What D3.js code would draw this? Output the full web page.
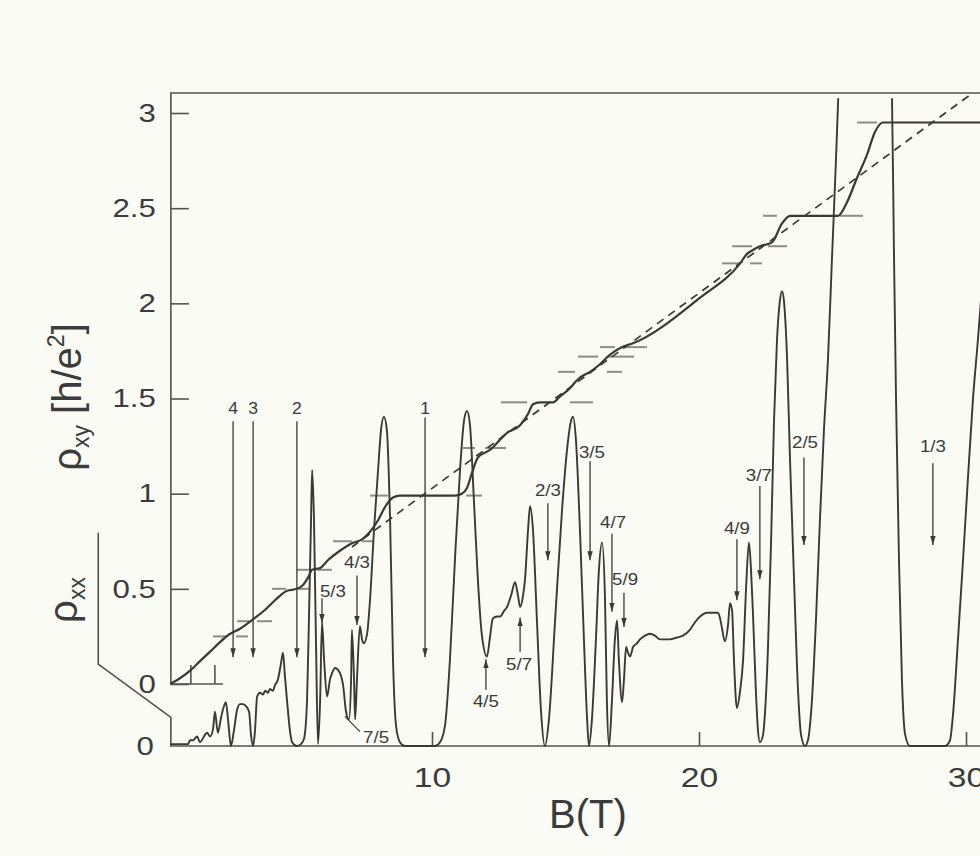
<!DOCTYPE html>
<html>
<head>
<meta charset="utf-8">
<script src="https://cdn.jsdelivr.net/npm/d3@7"></script>
<style>
  body { margin: 0; background: #fbfbf5; }
  svg { display: block; font-family: "Liberation Sans", Arial, Helvetica, sans-serif; }
</style>
</head>
<body>
<div id="container"></div>
<script>
/* DATA */
// rho_xx trace: [B (T), rho_xx in h/e^2 units, offset to its own zero]
const rhoXX = [
  [0.19,0.01],[0.56,0.01],[0.86,0.01],[0.94,0.03],[1.05,0.03],[1.20,0.05],[1.31,0.02],[1.46,0.05],
  [1.57,0.07],[1.69,0.05],[1.80,0.09],[1.87,0.18],[1.98,0.07],[2.10,0.15],[2.21,0.21],[2.28,0.23],
  [2.36,0.14],[2.47,0],[2.58,0.08],[2.70,0.19],[2.81,0.22],[2.92,0.22],[3.03,0.21],[3.15,0.18],
  [3.22,0.06],[3.30,0],[3.37,0.08],[3.45,0.26],[3.56,0.28],[3.67,0.27],[3.75,0.29],[3.86,0.28],
  [3.93,0.30],[4.04,0.29],[4.12,0.32],[4.23,0.35],[4.34,0.43],[4.42,0.49],[4.49,0.37],[4.57,0.24],
  [4.68,0.08],[4.76,0.02],[4.94,0],[5.09,0.01],[5.21,0.04],[5.32,0.24],[5.39,0.66],[5.47,1.19],
  [5.51,1.45],[5.58,1.19],[5.66,0.50],[5.73,0.01],[5.81,0.24],[5.88,0.65],[5.96,0.45],[6.07,0.26],
  [6.18,0.35],[6.25,0.38],[6.37,0.41],[6.48,0.40],[6.59,0.37],[6.67,0.32],[6.78,0.18],[6.89,0.14],
  [6.97,0.35],[7.00,0.61],[7.08,0.35],[7.12,0.14],[7.19,0.35],[7.30,0.63],[7.38,0.56],[7.45,0.54],
  [7.57,0.59],[7.68,0.77],[7.83,1.14],[7.98,1.45],[8.09,1.66],[8.20,1.73],[8.31,1.66],[8.43,1.19],
  [8.54,0.45],[8.65,0.11],[8.80,0.02],[8.99,0],[9.55,0],[10.11,0],[10.30,0.02],[10.49,0.11],
  [10.67,0.45],[10.86,0.98],[11.05,1.45],[11.20,1.71],[11.31,1.76],[11.42,1.69],[11.57,1.29],
  [11.72,0.87],[11.87,0.58],[12.06,0.47],[12.17,0.57],[12.28,0.67],[12.43,0.68],[12.55,0.68],
  [12.70,0.71],[12.81,0.73],[12.96,0.79],[13.11,0.86],[13.22,0.79],[13.30,0.73],[13.41,0.79],
  [13.48,0.87],[13.60,1.14],[13.67,1.26],[13.78,1.14],[13.93,0.66],[14.08,0.19],[14.23,0],
  [14.38,0.14],[14.61,0.66],[14.87,1.24],[15.06,1.56],[15.21,1.71],[15.28,1.73],[15.39,1.61],
  [15.54,1.14],[15.69,0.56],[15.81,0.14],[15.88,0],[15.99,0.14],[16.14,0.56],[16.25,0.92],
  [16.37,1.07],[16.48,0.77],[16.55,0.24],[16.63,0],[16.74,0.24],[16.85,0.56],[16.93,0.66],
  [17.00,0.45],[17.12,0.23],[17.19,0.35],[17.27,0.52],[17.34,0.49],[17.42,0.47],[17.53,0.52],
  [17.68,0.54],[17.79,0.56],[17.98,0.58],[18.16,0.59],[18.35,0.58],[18.54,0.56],[18.91,0.56],
  [19.18,0.57],[19.40,0.58],[19.66,0.61],[19.85,0.65],[20.04,0.68],[20.30,0.70],[20.49,0.70],
  [20.71,0.70],[20.79,0.67],[20.86,0.62],[20.97,0.55],[21.09,0.64],[21.16,0.75],[21.24,0.71],
  [21.31,0.45],[21.42,0.20],[21.54,0.29],[21.65,0.45],[21.76,0.82],[21.87,1.07],[21.95,0.92],
  [22.02,0.70],[22.13,0.29],[22.21,0.08],[22.28,0.02],[22.40,0.06],[22.47,0.17],[22.58,0.50],
  [22.70,1.08],[22.81,1.71],[22.92,2.13],[23.03,2.34],[23.11,2.39],[23.18,2.34],[23.30,2.03],
  [23.41,1.50],[23.56,0.87],[23.71,0.29],[23.82,0.06],[23.97,0],[24.08,0.03],[24.23,0.24],
  [24.38,0.66],[24.53,1.19],[24.68,1.66],[24.83,2.03],[24.98,2.56],[25.13,3.08],[25.24,3.50],
  [25.6,4.3],[26.2,4.6],[26.8,4.3],[27.15,3.60],[27.23,3.39],[27.30,2.61],[27.38,1.82],
  [27.49,0.98],[27.60,0.35],[27.72,0.06],[27.90,0],[28.28,0],[28.84,0],[29.21,0],[29.40,0.03],
  [29.51,0.16],[29.70,0.56],[29.89,0.98],[30.07,1.40],[30.26,1.82],[30.45,2.14],[30.56,2.34]
];

// rho_xy trace: [B (T), rho_xy (h/e^2)]
const rhoXY = [
  [0.19,0],[0.56,0.03],[0.94,0.07],[1.31,0.12],[1.69,0.17],[2.06,0.22],[2.40,0.26],[2.81,0.29],
  [3.30,0.34],[3.75,0.39],[4.12,0.44],[4.57,0.49],[4.94,0.50],[5.17,0.52],[5.36,0.56],[5.51,0.60],
  [5.81,0.61],[6.10,0.65],[6.55,0.70],[7.00,0.74],[7.38,0.76],[7.68,0.80],[7.98,0.86],[8.24,0.93],
  [8.54,0.98],[8.80,0.99],[10.86,0.99],[11.12,1.00],[11.31,1.03],[11.50,1.11],[11.72,1.19],
  [12.17,1.23],[12.81,1.32],[13.30,1.36],[13.60,1.42],[13.78,1.47],[14.04,1.48],[14.53,1.48],
  [14.79,1.51],[15.06,1.54],[15.54,1.61],[15.92,1.64],[16.29,1.68],[16.67,1.73],[17.12,1.77],
  [17.53,1.79],[20.04,2.03],[21.54,2.21],[21.80,2.26],[22.02,2.28],[22.28,2.30],[22.73,2.32],
  [23.11,2.42],[23.41,2.46],[25.21,2.46],[25.54,2.53],[25.92,2.66],[26.29,2.78],[26.59,2.90],
  [26.89,2.95],[30.6,2.95]
];

// classical Hall line (dashed), end points
const classical = [[7.0, 0.72], [30.2, 3.10]];

// grey quantized-value marks: [rho_xy, B start, B end]
const plateauMarks = [
  [0.25,1.80,2.36],[0.25,2.66,3.11],
  [0.33,2.70,3.15],[0.33,3.45,4.01],
  [0.50,4.01,4.53],[0.50,4.98,5.43],
  [0.60,4.94,5.39],[0.60,5.69,6.25],
  [0.75,6.29,7.00],[0.75,7.38,7.79],
  [0.99,7.68,8.35],[0.99,11.27,11.87],
  [1.24,11.16,11.61],[1.24,11.99,12.77],
  [1.48,12.58,13.56],[1.48,15.17,16.03],
  [1.64,14.72,15.36],[1.64,16.55,17.12],
  [1.72,15.47,16.22],[1.72,16.59,17.57],
  [1.77,16.29,16.85],[1.77,17.23,18.05],
  [2.21,20.86,21.54],[2.21,21.91,22.36],
  [2.30,21.24,21.99],[2.30,22.58,23.30],
  [2.46,22.40,22.92],[2.46,25.28,26.14],
  [2.95,25.92,26.67]
];

// filling-factor arrows: label, B, line start, tip, label position (rho_xy units)
const arrows = [
  { t: "4",   b: 2.55,  y1: 1.38, y2: 0.14, lb: 2.55,  ly: 1.45 },
  { t: "3",   b: 3.30,  y1: 1.38, y2: 0.14, lb: 3.30,  ly: 1.45 },
  { t: "2",   b: 4.94,  y1: 1.38, y2: 0.14, lb: 4.94,  ly: 1.45 },
  { t: "1",   b: 9.74,  y1: 1.40, y2: 0.14, lb: 9.74,  ly: 1.45 },
  { t: "5/3", b: 5.88,  y1: 0.45, y2: 0.32, lb: 6.29,  ly: 0.49 },
  { t: "4/3", b: 7.19,  y1: 0.57, y2: 0.31, lb: 7.19,  ly: 0.64 },
  { t: "2/3", b: 14.34, y1: 0.95, y2: 0.65, lb: 14.34, ly: 1.02 },
  { t: "3/5", b: 15.92, y1: 1.17, y2: 0.65, lb: 15.99, ly: 1.22 },
  { t: "4/7", b: 16.74, y1: 0.79, y2: 0.38, lb: 16.78, ly: 0.85 },
  { t: "5/9", b: 17.19, y1: 0.48, y2: 0.30, lb: 17.23, ly: 0.55 },
  { t: "5/7", b: 13.30, y1: 0.17, y2: 0.35, lb: 13.26, ly: 0.105 },
  { t: "4/5", b: 12.02, y1: -0.03, y2: 0.13, lb: 12.02, ly: -0.09 },
  { t: "4/9", b: 21.42, y1: 0.76, y2: 0.44, lb: 21.42, ly: 0.82 },
  { t: "3/7", b: 22.28, y1: 1.04, y2: 0.55, lb: 22.24, ly: 1.10 },
  { t: "2/5", b: 23.93, y1: 1.19, y2: 0.73, lb: 23.97, ly: 1.27 },
  { t: "1/3", b: 28.76, y1: 1.16, y2: 0.73, lb: 28.76, ly: 1.25 }
];
// 7/5 has a slanted leader instead of an arrow
const leader75 = { t: "7/5", from: [6.74, -0.17], to: [7.30, -0.25], label: [7.42, -0.28] };

const xTicks = [10, 20, 30];
const yTicks = [0, 0.5, 1, 1.5, 2, 2.5, 3];
const xxTicks = [0];
const originTicks = [0.95, 1.85];

/* LAYOUT */
const width = 980, height = 856;
const ink = "#3a3935", grey = "#8d8c87", textCol = "#3b3b3b";

const x = d3.scaleLinear().domain([0, 30]).range([165, 966]);
const yXY = d3.scaleLinear().domain([0, 3]).range([684, 113]);
const yXX = d3.scaleLinear().domain([0, 3]).range([746, 175]);

const b0 = 0.22;          // where the axes start
const topVal = 3.105;     // top frame in rho_xy units

const svg = d3.select("#container").append("svg")
  .attr("width", width).attr("height", height);

svg.append("rect").attr("width", width).attr("height", height).attr("fill", "#fbfbf5");

const defs = svg.append("defs");
defs.append("clipPath").attr("id", "clip")
  .append("rect").attr("x", 0).attr("y", yXY(3.077)).attr("width", width).attr("height", height);
defs.append("marker").attr("id", "ah")
  .attr("viewBox", "0 0 10 6").attr("refX", 10).attr("refY", 3)
  .attr("markerWidth", 9).attr("markerHeight", 5.4)
  .attr("markerUnits", "userSpaceOnUse").attr("orient", "auto")
  .append("path").attr("d", "M0,0L10,3L0,6Z").attr("fill", ink);

/* FRAME */
const frame = svg.append("g").attr("fill", "none").attr("stroke", "#55534f").attr("stroke-width", 1.6);
frame.append("path")
  .attr("d", `M${x(b0)},${yXY(0)}V${yXY(topVal)}H${width}`);
frame.append("path")
  .attr("d", `M${x(b0)},${yXY(0)}H${x(2.17)}`);
frame.append("path")
  .attr("d", `M${x(-2.5)},${yXX(1.12)}V${yXX(0.43)}L${x(b0)},${yXX(0.15)}V${yXX(0)}H${width}`);

/* AXES */
function styleAxis(g, size, stretch, dx) {
  g.select(".domain").remove();
  g.selectAll(".tick line").attr("stroke", "#55534f").attr("stroke-width", 1.6);
  g.selectAll(".tick text")
    .attr("fill", textCol)
    .style("font-size", size + "px")
    .attr("transform", `scale(${stretch},1)`);
  if (dx !== undefined) g.selectAll(".tick text").attr("x", dx / stretch);
}

svg.append("g")
  .attr("transform", `translate(${x(b0)},0)`)
  .call(d3.axisLeft(yXY).tickValues(yTicks).tickFormat(d => String(d))
    .tickSizeInner(-18).tickSizeOuter(0).tickPadding(15))
  .call(g => styleAxis(g, 26, 1.2, -15));

svg.append("g")
  .attr("transform", `translate(${x(b0)},0)`)
  .call(d3.axisLeft(yXX).tickValues(xxTicks).tickFormat(d => String(d))
    .tickSize(0).tickPadding(17))
  .call(g => styleAxis(g, 26, 1.2, -17));

svg.append("g")
  .attr("transform", `translate(0,${yXX(0)})`)
  .call(d3.axisBottom(x).tickValues(xTicks).tickFormat(d => String(d))
    .tickSizeInner(-14).tickSizeOuter(0).tickPadding(21))
  .call(g => styleAxis(g, 28, 1.2));

svg.append("g")
  .attr("transform", `translate(0,${yXY(0)})`)
  .call(d3.axisBottom(x).tickValues(originTicks).tickFormat("")
    .tickSizeInner(-19).tickSizeOuter(0))
  .call(g => styleAxis(g, 10, 1));

/* AXIS TITLES */
const tXY = svg.append("text")
  .attr("transform", `translate(81,397) rotate(-90)`)
  .attr("text-anchor", "middle").attr("fill", textCol).style("font-size", "40px");
tXY.append("tspan").text("ρ");
tXY.append("tspan").attr("dy", 8).style("font-size", "23px").text("xy");
tXY.append("tspan").attr("dy", -8).text(" [h/e");
tXY.append("tspan").attr("dy", -17).style("font-size", "23px").text("2");
tXY.append("tspan").attr("dy", 17).text("]");

const tXX = svg.append("text")
  .attr("transform", `translate(77,600) rotate(-90)`)
  .attr("text-anchor", "middle").attr("fill", textCol).style("font-size", "40px");
tXX.append("tspan").text("ρ");
tXX.append("tspan").attr("dy", 8).style("font-size", "23px").text("xx");

svg.append("text")
  .attr("x", 588).attr("y", 828)
  .attr("text-anchor", "middle").attr("fill", textCol)
  .style("font-size", "40px").text("B(T)");

/* GREY QUANTIZED MARKS */
svg.append("g").selectAll("line")
  .data(plateauMarks).join("line")
  .attr("x1", d => x(d[1])).attr("x2", d => x(d[2]))
  .attr("y1", d => yXY(d[0])).attr("y2", d => yXY(d[0]))
  .attr("stroke", grey).attr("stroke-width", 2);

/* CLASSICAL LINE */
svg.append("path")
  .datum(classical)
  .attr("d", d3.line().x(d => x(d[0])).y(d => yXY(d[1])))
  .attr("fill", "none").attr("stroke", ink).attr("stroke-width", 1.7)
  .attr("stroke-dasharray", "8,6");

/* CURVES */
svg.append("path")
  .datum(rhoXX)
  .attr("clip-path", "url(#clip)")
  .attr("d", d3.line().x(d => x(d[0])).y(d => yXX(d[1])).curve(d3.curveMonotoneX))
  .attr("fill", "none").attr("stroke", ink).attr("stroke-width", 1.9)
  .attr("stroke-linejoin", "round");

svg.append("path")
  .datum(rhoXY)
  .attr("d", d3.line().x(d => x(d[0])).y(d => yXY(d[1])).curve(d3.curveMonotoneX))
  .attr("fill", "none").attr("stroke", ink).attr("stroke-width", 2.2)
  .attr("stroke-linejoin", "round");

/* ARROWS AND LABELS */
const ann = svg.append("g");
ann.selectAll("line")
  .data(arrows).join("line")
  .attr("x1", d => x(d.b)).attr("x2", d => x(d.b))
  .attr("y1", d => yXY(d.y1)).attr("y2", d => yXY(d.y2))
  .attr("stroke", ink).attr("stroke-width", 1.3)
  .attr("marker-end", "url(#ah)");

ann.selectAll("text")
  .data(arrows).join("text")
  .attr("transform", d => `translate(${x(d.lb)},${yXY(d.ly)}) scale(1.1,1)`)
  .attr("dy", "0.35em")
  .attr("text-anchor", "middle")
  .attr("fill", textCol)
  .style("font-size", d => d.t.length > 1 ? "17px" : "16px")
  .text(d => d.t);

ann.append("line")
  .attr("x1", x(leader75.from[0])).attr("y1", yXY(leader75.from[1]))
  .attr("x2", x(leader75.to[0])).attr("y2", yXY(leader75.to[1]))
  .attr("stroke", ink).attr("stroke-width", 1.2);
ann.append("text")
  .attr("transform", `translate(${x(leader75.label[0])},${yXY(leader75.label[1])}) scale(1.1,1)`)
  .attr("dy", "0.35em")
  .attr("fill", textCol).style("font-size", "17px")
  .text(leader75.t);
</script>
</body>
</html>
